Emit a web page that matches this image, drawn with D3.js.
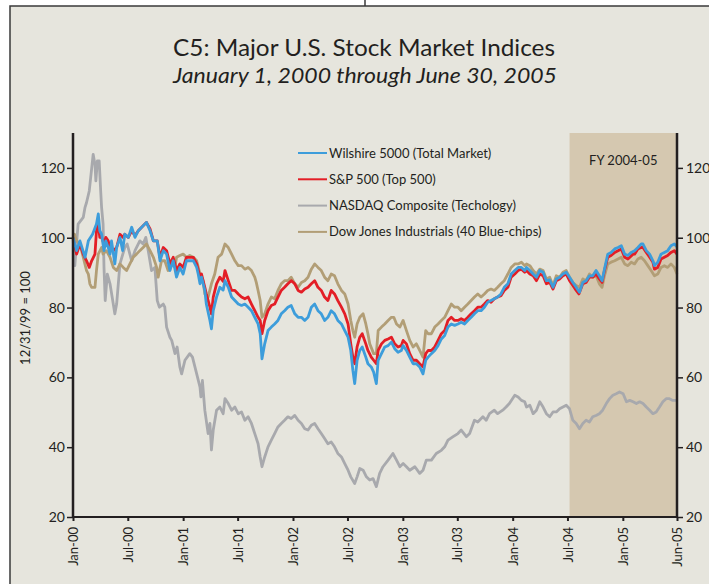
<!DOCTYPE html>
<html>
<head>
<meta charset="utf-8">
<script src="https://cdn.jsdelivr.net/npm/d3@7"></script>
<style>
  body { margin: 0; background: #fff; }
  svg { display: block; font-family: Lato, "Noto Sans", sans-serif; }
</style>
</head>
<body>
<script>
// index values, 12/31/99 = 100
var wilshire = [
  ["2000-01-01",100],["2000-01-13",96.3],["2000-01-24",99.1],["2000-02-10",94.4],["2000-02-21",99.1],
  ["2000-03-06",101.0],["2000-03-19",103.9],["2000-03-25",106.8],["2000-03-30",102.0],["2000-04-05",101.0],
  ["2000-04-13",96.3],["2000-04-19",99.1],["2000-04-27",97.2],["2000-05-03",95.3],["2000-05-08",99.1],
  ["2000-05-19",92.5],["2000-05-25",97.2],["2000-06-05",100.1],["2000-06-14",96.3],["2000-06-21",101.0],
  ["2000-07-03",100.1],["2000-07-14",103.0],["2000-07-25",100.1],["2000-08-05",102.0],["2000-09-01",104.4],
  ["2000-09-13",102.0],["2000-09-24",99.1],["2000-10-07",99.1],["2000-10-16",93.4],["2000-10-27",96.3],
  ["2000-11-07",95.3],["2000-11-18",90.6],["2000-11-29",93.4],["2000-12-10",88.7],["2000-12-21",91.5],
  ["2001-01-01",89.6],["2001-01-12",93.4],["2001-02-04",93.4],["2001-02-15",91.5],["2001-02-20",89.6],
  ["2001-02-26",86.8],["2001-03-03",88.7],["2001-03-14",84.9],["2001-03-19",81.0],["2001-03-31",76.3],
  ["2001-04-05",73.9],["2001-04-11",79.1],["2001-04-22",83.0],["2001-05-03",85.8],["2001-05-14",85.0],
  ["2001-05-20",87.7],["2001-05-31",85.8],["2001-06-11",83.0],["2001-06-22",82.0],["2001-07-03",81.0],
  ["2001-07-14",80.6],["2001-07-25",81.0],["2001-08-05",80.1],["2001-08-16",79.1],["2001-08-27",77.2],
  ["2001-09-07",75.3],["2001-09-14",72.5],["2001-09-20",65.3],["2001-09-29",69.6],["2001-10-10",73.4],
  ["2001-10-21",74.4],["2001-11-01",75.3],["2001-11-12",76.3],["2001-11-23",78.2],["2001-12-04",79.1],
  ["2001-12-15",80.1],["2001-12-26",80.6],["2002-01-07",78.2],["2002-01-18",77.2],["2002-01-29",77.2],
  ["2002-02-09",76.3],["2002-02-20",77.2],["2002-03-03",80.1],["2002-03-14",81.0],["2002-03-25",79.1],
  ["2002-04-05",78.2],["2002-04-16",76.3],["2002-04-27",77.2],["2002-05-08",79.1],["2002-05-19",78.2],
  ["2002-05-30",76.3],["2002-06-11",75.3],["2002-06-22",73.4],["2002-07-03",71.5],["2002-07-12",67.7],
  ["2002-07-19",62.0],["2002-07-25",58.2],["2002-08-02",64.9],["2002-08-11",67.7],["2002-08-19",68.7],
  ["2002-08-31",65.8],["2002-09-07",63.9],["2002-09-18",63.0],["2002-09-26",61.5],["2002-10-05",58.2],
  ["2002-10-11",64.9],["2002-10-22",66.8],["2002-11-02",68.7],["2002-11-13",69.1],["2002-11-24",70.1],
  ["2002-12-05",68.2],["2002-12-16",67.2],["2002-12-27",67.7],["2003-01-02",69.1],["2003-01-13",67.7],
  ["2003-01-24",65.8],["2003-02-04",63.9],["2003-02-15",63.9],["2003-02-26",63.0],["2003-03-09",61.0],
  ["2003-03-18",64.9],["2003-03-26",65.8],["2003-04-06",66.8],["2003-04-17",67.7],["2003-04-28",69.1],
  ["2003-05-09",71.0],["2003-05-20",72.0],["2003-05-31",74.4],["2003-06-11",75.3],["2003-06-22",74.9],
  ["2003-07-03",75.3],["2003-07-14",75.8],["2003-07-25",75.3],["2003-08-05",76.3],["2003-08-16",77.2],
  ["2003-08-27",78.2],["2003-09-07",79.1],["2003-09-18",79.1],["2003-09-29",80.1],["2003-10-10",81.5],
  ["2003-10-21",82.0],["2003-11-01",82.5],["2003-11-12",83.0],["2003-11-23",83.9],["2003-12-04",85.8],
  ["2003-12-16",86.8],["2003-12-27",89.6],["2004-01-08",90.6],["2004-01-19",91.5],["2004-01-30",91.5],
  ["2004-02-10",90.6],["2004-02-16",91.5],["2004-02-27",90.6],["2004-03-09",89.6],["2004-03-20",88.7],
  ["2004-03-31",90.6],["2004-04-11",90.1],["2004-04-22",87.7],["2004-05-03",87.9],["2004-05-14",85.8],
  ["2004-05-25",88.2],["2004-06-05",88.7],["2004-06-16",89.6],["2004-06-27",90.1],["2004-07-08",88.7],
  ["2004-07-19",87.2],["2004-07-30",85.8],["2004-08-10",84.4],["2004-08-21",87.2],["2004-09-01",87.7],
  ["2004-09-12",89.1],["2004-09-23",89.1],["2004-10-04",90.6],["2004-10-15",89.1],["2004-10-24",87.7],
  ["2004-11-01",91.0],["2004-11-12",95.3],["2004-11-23",95.8],["2004-12-05",96.8],["2004-12-16",97.2],
  ["2004-12-27",97.7],["2005-01-07",95.3],["2005-01-18",94.9],["2005-01-29",95.8],["2005-02-09",96.3],
  ["2005-02-20",97.2],["2005-03-03",98.2],["2005-03-09",98.2],["2005-03-20",96.3],["2005-03-31",95.3],
  ["2005-04-11",93.4],["2005-04-16",92.0],["2005-04-27",93.0],["2005-05-08",95.3],["2005-05-19",95.8],
  ["2005-05-30",96.3],["2005-06-10",97.7],["2005-06-21",98.2],["2005-06-30",97.4]
];

var sp500 = [
  ["2000-01-01",100],["2000-01-13",95.3],["2000-01-24",98.2],["2000-02-04",95.3],["2000-02-15",93.4],
  ["2000-02-24",91.5],["2000-03-03",93.4],["2000-03-14",95.3],["2000-03-19",102.0],["2000-03-25",103.9],
  ["2000-03-30",100.1],["2000-04-05",100.1],["2000-04-13",98.2],["2000-04-19",100.1],["2000-04-27",99.1],
  ["2000-05-03",97.2],["2000-05-14",96.3],["2000-05-25",97.2],["2000-06-05",101.0],["2000-06-14",100.1],
  ["2000-06-21",101.0],["2000-07-03",100.1],["2000-07-14",102.0],["2000-07-25",100.6],["2000-08-05",102.0],
  ["2000-09-01",104.4],["2000-09-13",102.5],["2000-09-24",99.1],["2000-10-07",99.1],["2000-10-16",94.4],
  ["2000-10-27",97.2],["2000-11-07",96.3],["2000-11-18",92.5],["2000-11-29",94.4],["2000-12-10",90.6],
  ["2000-12-21",92.5],["2001-01-01",91.5],["2001-01-12",94.4],["2001-02-04",94.4],["2001-02-15",92.5],
  ["2001-02-26",88.7],["2001-03-03",89.6],["2001-03-14",85.8],["2001-03-19",83.9],["2001-03-31",80.1],
  ["2001-04-05",78.2],["2001-04-11",83.0],["2001-04-22",86.8],["2001-05-03",88.7],["2001-05-14",87.5],
  ["2001-05-20",90.6],["2001-05-31",87.7],["2001-06-11",84.9],["2001-06-22",84.9],["2001-07-03",83.9],
  ["2001-07-14",83.0],["2001-07-25",82.5],["2001-08-05",83.0],["2001-08-16",81.0],["2001-08-27",79.1],
  ["2001-09-07",77.2],["2001-09-14",76.3],["2001-09-20",72.5],["2001-09-29",76.3],["2001-10-10",79.1],
  ["2001-10-21",80.6],["2001-11-01",81.0],["2001-11-12",83.0],["2001-11-23",84.9],["2001-12-04",85.8],
  ["2001-12-15",86.8],["2001-12-26",87.7],["2002-01-07",86.8],["2002-01-18",84.9],["2002-01-29",84.4],
  ["2002-02-09",85.3],["2002-02-20",85.8],["2002-03-03",86.8],["2002-03-14",87.7],["2002-03-25",85.8],
  ["2002-04-05",84.9],["2002-04-16",83.0],["2002-04-27",82.0],["2002-05-08",84.9],["2002-05-19",83.9],
  ["2002-05-30",82.0],["2002-06-11",80.1],["2002-06-22",78.2],["2002-07-03",75.3],["2002-07-12",69.6],
  ["2002-07-19",65.8],["2002-07-25",63.9],["2002-08-02",68.7],["2002-08-11",71.5],["2002-08-19",72.5],
  ["2002-08-31",69.6],["2002-09-07",67.7],["2002-09-18",65.8],["2002-09-26",64.9],["2002-10-05",63.9],
  ["2002-10-11",67.7],["2002-10-22",69.6],["2002-11-02",70.6],["2002-11-13",71.0],["2002-11-24",71.5],
  ["2002-12-05",69.6],["2002-12-16",68.7],["2002-12-27",69.1],["2003-01-02",70.6],["2003-01-13",69.6],
  ["2003-01-24",66.8],["2003-02-04",64.9],["2003-02-15",64.9],["2003-02-26",63.9],["2003-03-09",63.0],
  ["2003-03-18",66.8],["2003-03-26",67.7],["2003-04-06",67.7],["2003-04-17",68.7],["2003-04-28",70.6],
  ["2003-05-09",72.5],["2003-05-20",73.4],["2003-05-31",76.3],["2003-06-11",77.2],["2003-06-22",76.3],
  ["2003-07-03",76.3],["2003-07-14",76.8],["2003-07-25",76.3],["2003-08-05",77.2],["2003-08-16",78.2],
  ["2003-08-27",79.1],["2003-09-07",80.1],["2003-09-18",80.1],["2003-09-29",81.0],["2003-10-10",82.0],
  ["2003-10-21",81.5],["2003-11-01",82.5],["2003-11-12",83.0],["2003-11-23",83.4],["2003-12-04",84.9],
  ["2003-12-16",85.8],["2003-12-27",88.7],["2004-01-08",89.6],["2004-01-19",90.6],["2004-01-30",91.0],
  ["2004-02-10",90.1],["2004-02-16",90.6],["2004-02-27",89.6],["2004-03-09",89.1],["2004-03-20",87.7],
  ["2004-03-31",89.6],["2004-04-11",89.1],["2004-04-22",86.8],["2004-05-03",87.2],["2004-05-14",85.3],
  ["2004-05-25",87.7],["2004-06-05",88.2],["2004-06-16",89.1],["2004-06-27",89.6],["2004-07-08",87.7],
  ["2004-07-19",86.3],["2004-07-30",84.9],["2004-08-08",83.9],["2004-08-21",86.8],["2004-09-01",87.2],
  ["2004-09-12",88.7],["2004-09-23",88.7],["2004-10-04",89.6],["2004-10-15",88.2],["2004-10-24",87.2],
  ["2004-11-01",90.6],["2004-11-12",94.4],["2004-11-23",94.9],["2004-12-05",95.8],["2004-12-16",96.3],
  ["2004-12-27",96.8],["2005-01-07",94.4],["2005-01-18",93.9],["2005-02-04",95.3],["2005-02-09",95.3],
  ["2005-02-20",96.8],["2005-03-03",97.2],["2005-03-09",97.2],["2005-03-20",95.8],["2005-03-31",94.4],
  ["2005-04-11",93.0],["2005-04-16",91.0],["2005-04-27",91.5],["2005-05-08",93.9],["2005-05-19",94.4],
  ["2005-05-30",94.9],["2005-06-10",95.8],["2005-06-21",96.3],["2005-06-30",95.3]
];

var nasdaq = [
  ["2000-01-01",100],["2000-01-07",92.0],["2000-01-18",103.9],["2000-02-04",105.8],["2000-02-10",108.7],
  ["2000-02-15",110.1],["2000-02-24",113.4],["2000-03-01",118.2],["2000-03-08",123.9],["2000-03-14",121.0],
  ["2000-03-17",116.3],["2000-03-22",122.0],["2000-03-28",122.0],["2000-04-02",113.4],["2000-04-05",108.7],
  ["2000-04-10",103.9],["2000-04-13",91.5],["2000-04-17",82.0],["2000-04-24",89.6],["2000-05-03",86.8],
  ["2000-05-19",78.2],["2000-05-25",81.0],["2000-06-05",92.5],["2000-06-21",97.2],["2000-06-29",98.2],
  ["2000-07-08",95.3],["2000-07-14",93.4],["2000-07-25",96.3],["2000-08-10",99.1],["2000-08-21",98.2],
  ["2000-08-30",100.1],["2000-09-07",96.3],["2000-09-18",90.6],["2000-09-29",91.5],["2000-10-07",82.0],
  ["2000-10-14",80.1],["2000-10-27",81.0],["2000-11-01",80.1],["2000-11-07",74.4],["2000-11-18",71.5],
  ["2000-11-24",70.6],["2000-12-05",66.8],["2000-12-12",68.7],["2000-12-21",63.0],["2000-12-27",61.0],
  ["2001-01-07",64.9],["2001-01-23",66.8],["2001-02-01",65.8],["2001-02-15",61.0],["2001-02-26",57.2],
  ["2001-03-01",54.4],["2001-03-06",59.1],["2001-03-14",50.6],["2001-03-25",43.9],["2001-03-31",46.8],
  ["2001-04-05",39.2],["2001-04-11",44.9],["2001-04-22",50.6],["2001-05-03",51.5],["2001-05-14",49.6],
  ["2001-05-20",53.9],["2001-05-31",52.5],["2001-06-11",50.6],["2001-06-22",51.5],["2001-07-03",49.6],
  ["2001-07-14",50.1],["2001-07-25",47.7],["2001-08-05",48.7],["2001-08-16",46.8],["2001-08-27",43.9],
  ["2001-09-07",41.0],["2001-09-14",37.2],["2001-09-20",34.4],["2001-09-29",37.2],["2001-10-10",40.1],
  ["2001-10-21",42.0],["2001-11-01",43.9],["2001-11-12",45.8],["2001-11-23",46.8],["2001-12-04",47.7],
  ["2001-12-15",48.7],["2001-12-26",48.2],["2002-01-07",49.1],["2002-01-18",47.7],["2002-01-29",46.8],
  ["2002-02-09",45.3],["2002-02-20",44.9],["2002-03-03",46.3],["2002-03-14",46.8],["2002-03-25",45.3],
  ["2002-04-05",43.9],["2002-04-16",42.5],["2002-04-27",41.0],["2002-05-08",41.5],["2002-05-19",40.1],
  ["2002-05-30",38.2],["2002-06-11",37.2],["2002-06-22",35.3],["2002-07-03",33.4],["2002-07-12",31.5],
  ["2002-07-25",29.6],["2002-08-02",31.5],["2002-08-11",33.9],["2002-08-22",33.4],["2002-09-02",31.5],
  ["2002-09-13",30.6],["2002-09-24",31.0],["2002-10-05",28.7],["2002-10-16",32.5],["2002-10-27",34.4],
  ["2002-11-13",36.3],["2002-11-29",38.2],["2002-12-11",36.3],["2002-12-22",34.4],["2003-01-02",35.3],
  ["2003-01-13",34.4],["2003-01-24",33.4],["2003-02-10",34.4],["2003-02-26",32.5],["2003-03-09",33.4],
  ["2003-03-20",36.3],["2003-04-06",36.3],["2003-04-22",38.2],["2003-05-09",39.1],["2003-05-20",40.1],
  ["2003-05-31",42.0],["2003-06-17",43.0],["2003-07-03",43.9],["2003-07-14",44.9],["2003-07-31",43.0],
  ["2003-08-11",43.9],["2003-08-27",47.7],["2003-09-07",47.2],["2003-09-24",48.7],["2003-10-05",47.7],
  ["2003-10-16",49.6],["2003-11-01",50.6],["2003-11-12",49.6],["2003-11-29",50.6],["2003-12-10",51.5],
  ["2003-12-21",52.5],["2004-01-08",54.9],["2004-01-19",54.4],["2004-01-30",53.4],["2004-02-10",53.0],
  ["2004-02-16",51.5],["2004-02-27",52.0],["2004-03-09",49.6],["2004-03-20",50.6],["2004-03-31",53.0],
  ["2004-04-11",51.5],["2004-04-22",49.6],["2004-05-03",48.7],["2004-05-14",50.1],["2004-05-25",50.1],
  ["2004-06-05",51.0],["2004-06-16",51.5],["2004-06-27",52.0],["2004-07-08",51.0],["2004-07-19",47.7],
  ["2004-07-30",46.8],["2004-08-10",45.3],["2004-08-21",46.8],["2004-09-01",47.7],["2004-09-12",47.2],
  ["2004-09-23",48.7],["2004-10-04",49.1],["2004-10-15",49.6],["2004-10-26",50.6],["2004-11-07",52.5],
  ["2004-11-18",53.9],["2004-11-29",54.9],["2004-12-10",55.3],["2004-12-21",55.8],["2005-01-02",55.3],
  ["2005-01-13",53.0],["2005-01-24",53.4],["2005-02-04",53.0],["2005-02-15",52.5],["2005-02-26",53.0],
  ["2005-03-09",52.5],["2005-03-20",51.5],["2005-03-31",50.6],["2005-04-11",49.6],["2005-04-22",50.1],
  ["2005-05-03",51.5],["2005-05-14",53.0],["2005-05-25",53.9],["2005-06-05",53.9],["2005-06-16",53.4],
  ["2005-06-30",53.4]
];

var dow = [
  ["2000-01-01",100],["2000-01-06",101.0],["2000-01-13",99.1],["2000-01-24",98.2],["2000-02-04",94.4],
  ["2000-02-15",90.6],["2000-02-21",89.6],["2000-02-26",86.8],["2000-03-03",85.8],["2000-03-14",85.8],
  ["2000-03-19",90.6],["2000-03-25",95.3],["2000-04-05",97.2],["2000-04-10",95.3],["2000-04-21",96.3],
  ["2000-05-03",94.4],["2000-05-14",91.5],["2000-05-25",90.6],["2000-06-05",92.5],["2000-06-16",91.5],
  ["2000-06-27",90.6],["2000-07-08",92.5],["2000-07-19",94.4],["2000-07-30",95.3],["2000-08-10",96.3],
  ["2000-08-21",97.2],["2000-09-01",98.2],["2000-09-13",96.3],["2000-09-24",94.4],["2000-10-05",91.5],
  ["2000-10-10",88.7],["2000-10-21",93.4],["2000-11-01",93.4],["2000-11-12",90.6],["2000-11-24",92.5],
  ["2000-12-05",91.5],["2000-12-10",94.4],["2000-12-21",94.9],["2001-01-01",95.3],["2001-01-12",94.4],
  ["2001-01-23",94.9],["2001-02-04",94.4],["2001-02-15",93.4],["2001-02-26",89.6],["2001-03-08",87.7],
  ["2001-03-14",83.9],["2001-03-25",83.0],["2001-04-05",86.8],["2001-04-16",89.6],["2001-04-27",94.4],
  ["2001-05-09",95.3],["2001-05-20",98.2],["2001-05-31",97.2],["2001-06-11",95.3],["2001-06-22",93.4],
  ["2001-07-03",92.0],["2001-07-14",92.0],["2001-07-25",91.0],["2001-08-05",91.5],["2001-08-16",90.6],
  ["2001-08-27",88.7],["2001-09-01",87.2],["2001-09-07",84.9],["2001-09-14",82.0],["2001-09-20",77.2],
  ["2001-09-29",78.2],["2001-10-10",81.0],["2001-10-21",83.0],["2001-11-01",82.5],["2001-11-12",84.9],
  ["2001-11-23",86.8],["2001-12-04",87.7],["2001-12-15",87.7],["2001-12-26",88.7],["2002-01-07",86.8],
  ["2002-01-18",85.8],["2002-01-29",87.2],["2002-02-09",87.7],["2002-02-20",88.7],["2002-03-03",91.0],
  ["2002-03-14",92.5],["2002-03-25",91.5],["2002-04-05",90.6],["2002-04-16",88.7],["2002-04-27",87.7],
  ["2002-05-08",89.6],["2002-05-19",89.1],["2002-05-30",86.8],["2002-06-11",84.9],["2002-06-22",83.9],
  ["2002-07-03",81.0],["2002-07-12",76.3],["2002-07-19",73.4],["2002-07-25",71.5],["2002-08-02",75.3],
  ["2002-08-11",77.2],["2002-08-22",78.2],["2002-08-31",75.3],["2002-09-07",72.5],["2002-09-13",69.6],
  ["2002-09-26",66.8],["2002-10-05",66.8],["2002-10-11",73.4],["2002-10-22",74.4],["2002-11-02",75.3],
  ["2002-11-13",76.3],["2002-11-24",77.2],["2002-12-02",77.2],["2002-12-11",75.3],["2002-12-22",74.4],
  ["2003-01-02",76.3],["2003-01-13",73.4],["2003-01-24",70.6],["2003-02-04",68.7],["2003-02-15",69.6],
  ["2003-02-26",67.7],["2003-03-09",65.8],["2003-03-18",73.4],["2003-03-26",72.5],["2003-04-06",72.5],
  ["2003-04-17",74.4],["2003-04-28",75.3],["2003-05-09",76.3],["2003-05-20",77.2],["2003-05-31",79.1],
  ["2003-06-11",81.0],["2003-06-22",80.1],["2003-07-03",80.1],["2003-07-14",79.1],["2003-07-25",80.1],
  ["2003-08-05",81.0],["2003-08-16",82.0],["2003-08-27",83.0],["2003-09-07",83.9],["2003-09-18",83.0],
  ["2003-09-29",83.9],["2003-10-10",84.9],["2003-10-21",85.3],["2003-11-01",84.9],["2003-11-12",85.8],
  ["2003-11-23",86.8],["2003-12-04",87.7],["2003-12-16",89.6],["2003-12-27",91.5],["2004-01-08",92.5],
  ["2004-01-19",92.5],["2004-01-30",93.0],["2004-02-10",92.0],["2004-02-16",92.5],["2004-02-27",92.0],
  ["2004-03-09",90.6],["2004-03-20",89.6],["2004-03-31",91.0],["2004-04-11",90.6],["2004-04-22",88.2],
  ["2004-05-03",88.7],["2004-05-14",86.3],["2004-05-25",89.1],["2004-06-05",88.7],["2004-06-16",90.1],
  ["2004-06-27",90.6],["2004-07-08",88.7],["2004-07-19",87.2],["2004-07-30",86.3],["2004-08-10",85.8],
  ["2004-08-21",88.2],["2004-09-01",87.7],["2004-09-12",89.6],["2004-09-23",88.7],["2004-10-04",89.1],
  ["2004-10-15",86.8],["2004-10-24",85.8],["2004-11-01",89.1],["2004-11-12",92.5],["2004-11-23",93.0],
  ["2004-12-05",93.4],["2004-12-16",93.9],["2004-12-27",94.4],["2005-01-07",92.5],["2005-01-18",92.0],
  ["2005-01-29",93.0],["2005-02-09",92.5],["2005-02-20",93.9],["2005-03-03",94.4],["2005-03-14",93.4],
  ["2005-03-25",92.0],["2005-04-05",90.6],["2005-04-16",89.1],["2005-04-27",89.6],["2005-05-08",91.5],
  ["2005-05-19",92.0],["2005-05-30",91.5],["2005-06-10",92.5],["2005-06-21",91.5],["2005-06-30",89.6]
];

var seriesNames = ["Wilshire 5000 (Total Market)", "S&P 500 (Top 500)", "NASDAQ Composite (Techology)", "Dow Jones Industrials (40 Blue-chips)"];
var seriesColors = ["#3d9ddb", "#e31e26", "#a8a9ad", "#b29e76"];
var tickDates = ["2000-01-01","2000-07-01","2001-01-01","2001-07-01","2002-01-01","2002-07-01","2003-01-01","2003-07-01","2004-01-01","2004-07-01","2005-01-01","2005-06-30"];
var tickLabels = ["Jan-00","Jul-00","Jan-01","Jul-01","Jan-02","Jul-02","Jan-03","Jul-03","Jan-04","Jul-04","Jan-05","Jun-05"];
var yTicks = [20, 40, 60, 80, 100, 120];
var fyStart = "2004-07-08", fyEnd = "2005-06-30";

var parseDate = d3.utcParse("%Y-%m-%d");
var width = 709, height = 584;
var ink = "#231f20";
var margin = { left: 73, right: 677, top: 133, bottom: 517 };

var svg = d3.select("body").append("svg")
  .attr("width", width)
  .attr("height", height);

// paper + frame
svg.append("rect").attr("width", width).attr("height", height).attr("fill", "#fff");
svg.append("rect").attr("x", 10).attr("y", 6).attr("width", width).attr("height", height)
  .attr("fill", "#e6e5dd");
svg.append("path").attr("d", "M10," + height + "V6H" + width)
  .attr("fill", "none").attr("stroke", "#3a3a3a").attr("stroke-width", 1.5);
svg.append("line").attr("x1", 365).attr("x2", 365).attr("y1", 0).attr("y2", 6)
  .attr("stroke", "#3a3a3a").attr("stroke-width", 1.5);

// titles
svg.append("text").attr("x", 364).attr("y", 56).attr("text-anchor", "middle")
  .attr("font-size", 24).attr("fill", ink)
  .attr("textLength", 382).attr("lengthAdjust", "spacingAndGlyphs")
  .text("C5:  Major U.S. Stock Market Indices");
svg.append("text").attr("x", 365).attr("y", 83).attr("text-anchor", "middle")
  .attr("font-size", 21).attr("font-style", "italic").attr("fill", ink)
  .attr("textLength", 384).attr("lengthAdjust", "spacingAndGlyphs")
  .text("January 1, 2000 through June 30, 2005");

var xScale = d3.scaleUtc()
  .domain([parseDate("2000-01-01"), parseDate("2005-06-30")])
  .range([margin.left, margin.right]);

var yScale = d3.scaleLinear()
  .domain([20, 130])
  .range([margin.bottom, margin.top]);

// FY shading
svg.append("rect")
  .attr("x", xScale(parseDate(fyStart)))
  .attr("y", margin.top)
  .attr("width", xScale(parseDate(fyEnd)) - xScale(parseDate(fyStart)))
  .attr("height", margin.bottom - margin.top)
  .attr("fill", "#d5c8b0");
svg.append("text")
  .attr("x", (xScale(parseDate(fyStart)) + xScale(parseDate(fyEnd))) / 2)
  .attr("y", 165).attr("text-anchor", "middle")
  .attr("font-size", 13).attr("fill", ink)
  .text("FY 2004-05");

// lines
var series = [
  { id: "wilshire", value: wilshire },
  { id: "sp500", value: sp500 },
  { id: "nasdaq", value: nasdaq },
  { id: "dow", value: dow }
];

var line = d3.line()
  .x(function(d) { return xScale(parseDate(d[0])); })
  .y(function(d) { return yScale(d[1]); });

// draw back to front: nasdaq, dow, s&p, wilshire
[2, 3, 1, 0].forEach(function(i) {
  svg.append("path")
    .attr("d", line(series[i].value))
    .attr("fill", "none")
    .attr("stroke", seriesColors[i])
    .attr("stroke-width", 2.8)
    .attr("stroke-linejoin", "round");
});

// axes
var yLeft = d3.axisLeft(yScale).tickValues(yTicks).tickSize(6).tickPadding(2);
var gl = svg.append("g").attr("transform", "translate(" + margin.left + ",0)").call(yLeft);
var yRight = d3.axisRight(yScale).tickValues(yTicks).tickSize(6).tickPadding(3);
var gr = svg.append("g").attr("transform", "translate(" + margin.right + ",0)").call(yRight);

[gl, gr].forEach(function(g) {
  g.select(".domain").attr("stroke", ink).attr("stroke-width", 2.5)
    .attr("d", "M0," + margin.top + "V" + margin.bottom);
  g.selectAll(".tick line").attr("stroke", ink).attr("stroke-width", 1.5);
  g.selectAll(".tick text").attr("fill", ink).attr("font-size", 14)
    .attr("font-family", "Lato, 'Noto Sans', sans-serif");
});

var xAxis = d3.axisBottom(xScale)
  .tickValues(tickDates.map(parseDate))
  .tickSize(4)
  .tickFormat(function(d, i) { return tickLabels[i]; });
var gx = svg.append("g").attr("transform", "translate(0," + margin.bottom + ")").call(xAxis);
gx.select(".domain").attr("stroke", ink).attr("stroke-width", 2)
  .attr("d", "M" + margin.left + ",0H" + margin.right);
gx.selectAll(".tick line").attr("stroke", ink).attr("stroke-width", 2);
gx.selectAll(".tick text")
  .attr("fill", ink).attr("font-size", 13)
  .attr("font-family", "Lato, 'Noto Sans', sans-serif")
  .attr("text-anchor", "end")
  .attr("transform", "translate(0,10) rotate(-90)")
  .attr("x", 0).attr("y", 0).attr("dy", "0.35em");

// y label
svg.append("text")
  .attr("transform", "translate(30,318) rotate(-90)")
  .attr("text-anchor", "middle").attr("font-size", 13).attr("fill", ink)
  .text("12/31/99 = 100");

// legend
var legend = svg.append("g");
seriesNames.forEach(function(name, i) {
  var y = 153 + i * 26.3;
  legend.append("line").attr("x1", 298).attr("x2", 327).attr("y1", y).attr("y2", y)
    .attr("stroke", seriesColors[i]).attr("stroke-width", 2);
  legend.append("text").attr("x", 329).attr("y", y).attr("dy", "0.35em")
    .attr("font-size", 13).attr("fill", ink).text(name);
});
</script>
</body>
</html>
